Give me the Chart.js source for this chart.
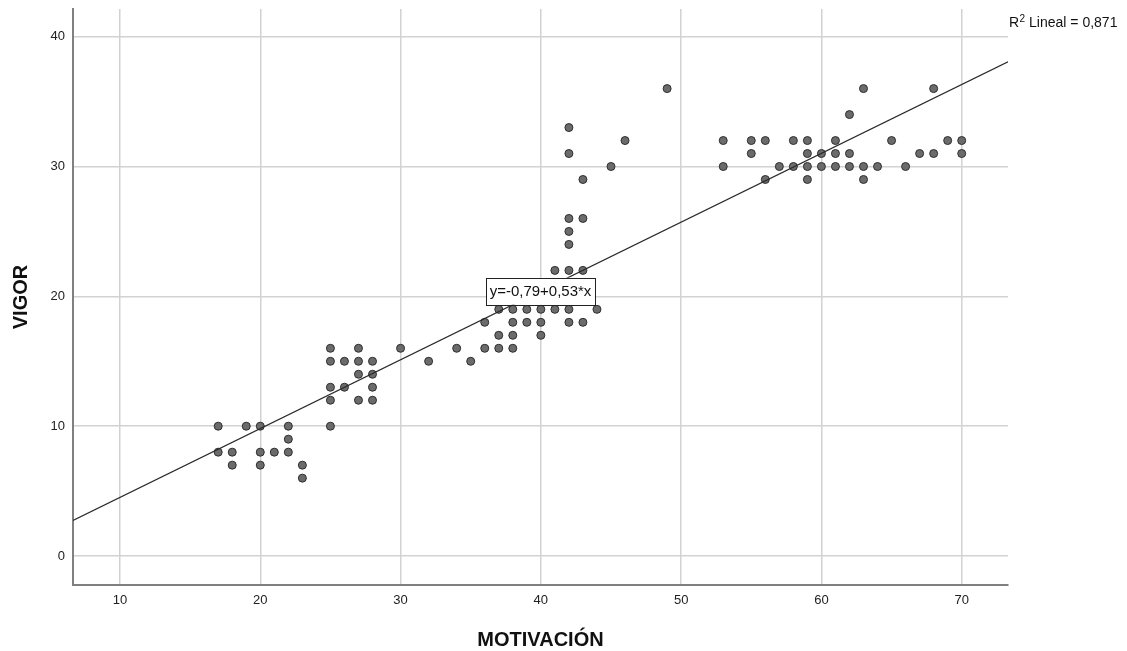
<!DOCTYPE html>
<html>
<head>
<meta charset="utf-8">
<script src="https://cdn.jsdelivr.net/npm/chart.js@4.4.0/dist/chart.umd.min.js"></script>
<style>
  html, body { margin: 0; padding: 0; background: #fff; }
</style>
</head>
<body>
<canvas id="grafico" width="1127" height="651"></canvas>
<script>
// puntos (MOTIVACIÓN, VIGOR)
const motivacion = [
    17, 17, 18, 18, 19, 20, 20, 20, 21, 22, 22, 22, 23, 23,
    25, 25, 25, 25, 25, 26, 26, 27, 27, 27, 27, 28, 28, 28, 28, 30, 32,
    34, 35, 36, 37, 38, 37, 38, 40, 36, 38, 39, 40, 42, 43,
    37, 38, 39, 40, 41, 42, 44, 41, 42, 43, 42, 42, 42, 43, 43, 45, 42, 42, 46, 49,
    53, 55, 56, 58, 59, 61, 65, 69, 70,
    55, 59, 60, 61, 62, 67, 68, 70,
    53, 57, 58, 59, 60, 61, 62, 63, 64, 66,
    56, 59, 63, 62, 63, 68
];
const vigor = [
    10, 8, 8, 7, 10, 10, 8, 7, 8, 10, 9, 8, 7, 6,
    10, 12, 13, 15, 16, 15, 13, 16, 15, 14, 12, 15, 14, 13, 12, 16, 15,
    16, 15, 16, 16, 16, 17, 17, 17, 18, 18, 18, 18, 18, 18,
    19, 19, 19, 19, 19, 19, 19, 22, 22, 22, 24, 25, 26, 26, 29, 30, 31, 33, 32, 36,
    32, 32, 32, 32, 32, 32, 32, 32, 32,
    31, 31, 31, 31, 31, 31, 31, 31,
    30, 30, 30, 30, 30, 30, 30, 30, 30, 30,
    29, 29, 29, 34, 36, 36
];

const ticksX = [10, 20, 30, 40, 50, 60, 70];
const ticksY = [0, 10, 20, 30, 40];

// recta de ajuste que muestra el gráfico
const intercepto = -0.79;
const pendiente = 0.53;
const r2Lineal = '0,871';
const textoEcuacion = 'y=-0,79+0,53*x';

const limX = [6.65, 73.30];
const limY = [-2.23, 42.13];

const fuente = 'Liberation Sans, Arial, sans-serif';

const puntos = motivacion.map((m, i) => ({ x: m, y: vigor[i] }));
const recta = limX.map(v => ({ x: v, y: intercepto + pendiente * v }));

const etiquetaRecta = {
    id: 'etiquetaRecta',
    afterDatasetsDraw(chart) {
        const { ctx, scales: { x, y } } = chart;
        const xm = (x.min + x.max) / 2;
        const px = x.getPixelForValue(xm);
        const py = y.getPixelForValue(intercepto + pendiente * xm);
        ctx.save();
        ctx.font = '15px ' + fuente;
        const w = ctx.measureText(textoEcuacion).width + 7;
        const h = 27;
        ctx.fillStyle = '#fff';
        ctx.fillRect(px - w / 2, py - h / 2, w, h);
        ctx.strokeStyle = '#222';
        ctx.lineWidth = 1;
        ctx.strokeRect(Math.round(px - w / 2) + 0.5, Math.round(py - h / 2) + 0.5, Math.round(w), h);
        ctx.fillStyle = '#111';
        ctx.textAlign = 'center';
        ctx.textBaseline = 'middle';
        ctx.fillText(textoEcuacion, px, py + 1);
        ctx.restore();
    }
};

const textoR2 = {
    id: 'textoR2',
    afterDraw(chart) {
        const { ctx } = chart;
        ctx.save();
        ctx.fillStyle = '#111';
        ctx.textBaseline = 'alphabetic';
        ctx.textAlign = 'left';
        let x = 1009;
        ctx.font = '14px ' + fuente;
        ctx.fillText('R', x, 27);
        x += ctx.measureText('R').width + 0.5;
        ctx.font = '10px ' + fuente;
        ctx.fillText('2', x, 22);
        x += ctx.measureText('2').width;
        ctx.font = '14px ' + fuente;
        ctx.fillText(' Lineal = ' + r2Lineal, x, 27);
        ctx.restore();
    }
};

const ctx = document.getElementById('grafico').getContext('2d');
new Chart(ctx, {
    type: 'scatter',
    data: {
        datasets: [
            {
                type: 'line',
                data: recta,
                borderColor: '#2a2a2a',
                borderWidth: 1.2,
                pointRadius: 0,
                fill: false,
                order: 0
            },
            {
                data: puntos,
                backgroundColor: '#6b6b6b',
                borderColor: '#2e2e2e',
                borderWidth: 1,
                pointRadius: 4,
                order: 1
            }
        ]
    },
    options: {
        responsive: false,
        animation: false,
        devicePixelRatio: 1,
        layout: { padding: { top: 9, right: 119, left: 0, bottom: 0 } },
        plugins: {
            legend: { display: false },
            tooltip: { enabled: false }
        },
        scales: {
            x: {
                type: 'linear',
                position: 'bottom',
                min: limX[0],
                max: limX[1],
                afterBuildTicks: s => { s.ticks = ticksX.map(v => ({ value: v })); },
                afterFit: s => { s.height = 66; s.paddingLeft = 0; s.paddingRight = 0; },
                grid: { color: '#d2d2d2', lineWidth: 1.5, drawTicks: false },
                border: { color: '#808080', width: 2 },
                ticks: { padding: 8, color: '#222', font: { family: fuente, size: 13 } },
                title: {
                    display: true,
                    text: 'MOTIVACIÓN',
                    color: '#111',
                    padding: { top: 0, bottom: 0 },
                    font: { family: fuente, size: 20, weight: 'bold', lineHeight: 1.1 }
                }
            },
            y: {
                type: 'linear',
                min: limY[0],
                max: limY[1],
                afterBuildTicks: s => { s.ticks = ticksY.map(v => ({ value: v })); },
                afterFit: s => { s.width = 73; s.paddingTop = 0; s.paddingBottom = 0; },
                grid: { color: '#d2d2d2', lineWidth: 1.5, drawTicks: false },
                border: { color: '#808080', width: 2 },
                ticks: { padding: 8, color: '#222', font: { family: fuente, size: 13 } },
                title: {
                    display: true,
                    text: 'VIGOR',
                    color: '#111',
                    padding: { top: 10, bottom: 0 },
                    font: { family: fuente, size: 20, weight: 'bold', lineHeight: 1.1 }
                }
            }
        }
    },
    plugins: [etiquetaRecta, textoR2]
});
</script>
</body>
</html>
